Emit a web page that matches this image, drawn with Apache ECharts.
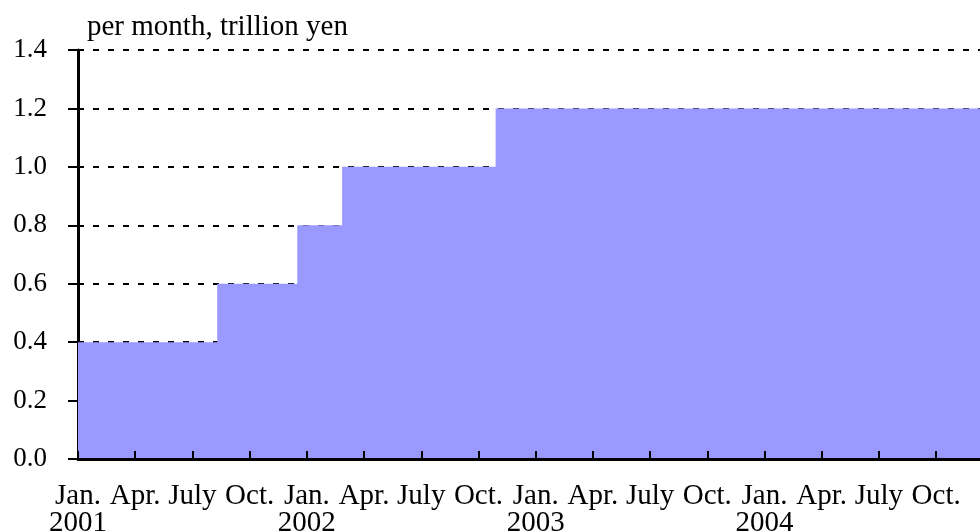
<!DOCTYPE html>
<html>
<head>
<meta charset="utf-8">
<script src="https://cdn.jsdelivr.net/npm/echarts@6/dist/echarts.min.js"></script>
<style>
  html, body { margin: 0; padding: 0; background: #fff; }
  #chart { width: 980px; height: 531px; }
</style>
</head>
<body>
<div id="chart"></div>
<script>
// months counted from Jan. 2001 (0) ; purchase amount changes
var stepMonths = [0, 7.3, 11.5, 13.85, 21.9, 48];
var stepValues = [0.4, 0.6, 0.8, 1.0, 1.2, 1.2];
var monthNames = ["Jan.", "Apr.", "July", "Oct."];
var years = ["2001", "2002", "2003", "2004"];
var yTicks = [0, 0.2, 0.4, 0.6, 0.8, 1.0, 1.2, 1.4];

var font = "'Liberation Serif', 'Times New Roman', serif";

var seriesData = stepMonths.map(function (m, i) { return [m, stepValues[i]]; });

var myChart = echarts.init(document.getElementById("chart"));
var option = {
  animation: false,
  title: {
    text: "per month, trillion yen",
    left: 82,
    top: 8,
    textStyle: { fontFamily: font, fontSize: 29, fontWeight: "normal", color: "#000" }
  },
  grid: { left: 78, top: 50, right: 0, bottom: 72, outerBoundsMode: "none", containLabel: false },
  xAxis: [{
    type: "value",
    min: 0,
    max: 47.3,   // the picture is cut just before Jan. 2005
    interval: 3,
    z: 5,
    axisLine: { onZero: false, lineStyle: { color: "#000", width: 3 } },
    axisTick: { inside: true, length: 8, lineStyle: { color: "#000", width: 2 } },
    splitLine: { show: false },
    axisLabel: {
      showMinLabel: true,
      showMaxLabel: false,
      hideOverlap: false,
      margin: 24,
      fontFamily: font,
      fontSize: 29,
      lineHeight: 27,
      color: "#000",
      formatter: function (v) {
        var q = Math.round(v / 3);
        if (q >= 16 || Math.abs(v - q * 3) > 0.01) return "";
        var name = monthNames[q % 4];
        if (q % 4 === 0) return name + "\n" + years[q / 4];
        return name;
      }
    }
  }, {
    type: "value",
    position: "top",
    min: 0,
    max: 47.3,
    z: 5,
    axisLine: { show: true, lineStyle: { color: "#000", width: 2 } },
    axisTick: { show: false },
    axisLabel: { show: false },
    splitLine: { show: false }
  }],
  yAxis: {
    type: "value",
    min: yTicks[0],
    max: yTicks[yTicks.length - 1],
    interval: 0.2,
    z: 0,
    axisLine: { show: true, lineStyle: { color: "#000", width: 3 } },
    axisTick: { show: true, length: 10, lineStyle: { color: "#000", width: 2 } },
    axisLabel: {
      margin: 31,
      fontFamily: font,
      fontSize: 27,
      color: "#000",
      formatter: function (v) { return v.toFixed(1); }
    },
    splitLine: { show: true, lineStyle: { color: "#000", width: 2, type: [6, 9] } }
  },
  series: [{
    type: "line",
    step: "end",
    data: seriesData,
    showSymbol: false,
    symbol: "none",
    lineStyle: { width: 0 },
    areaStyle: { color: "#9999FF", opacity: 1 },
    z: 2
  }]
};
myChart.setOption(option);
</script>
</body>
</html>
